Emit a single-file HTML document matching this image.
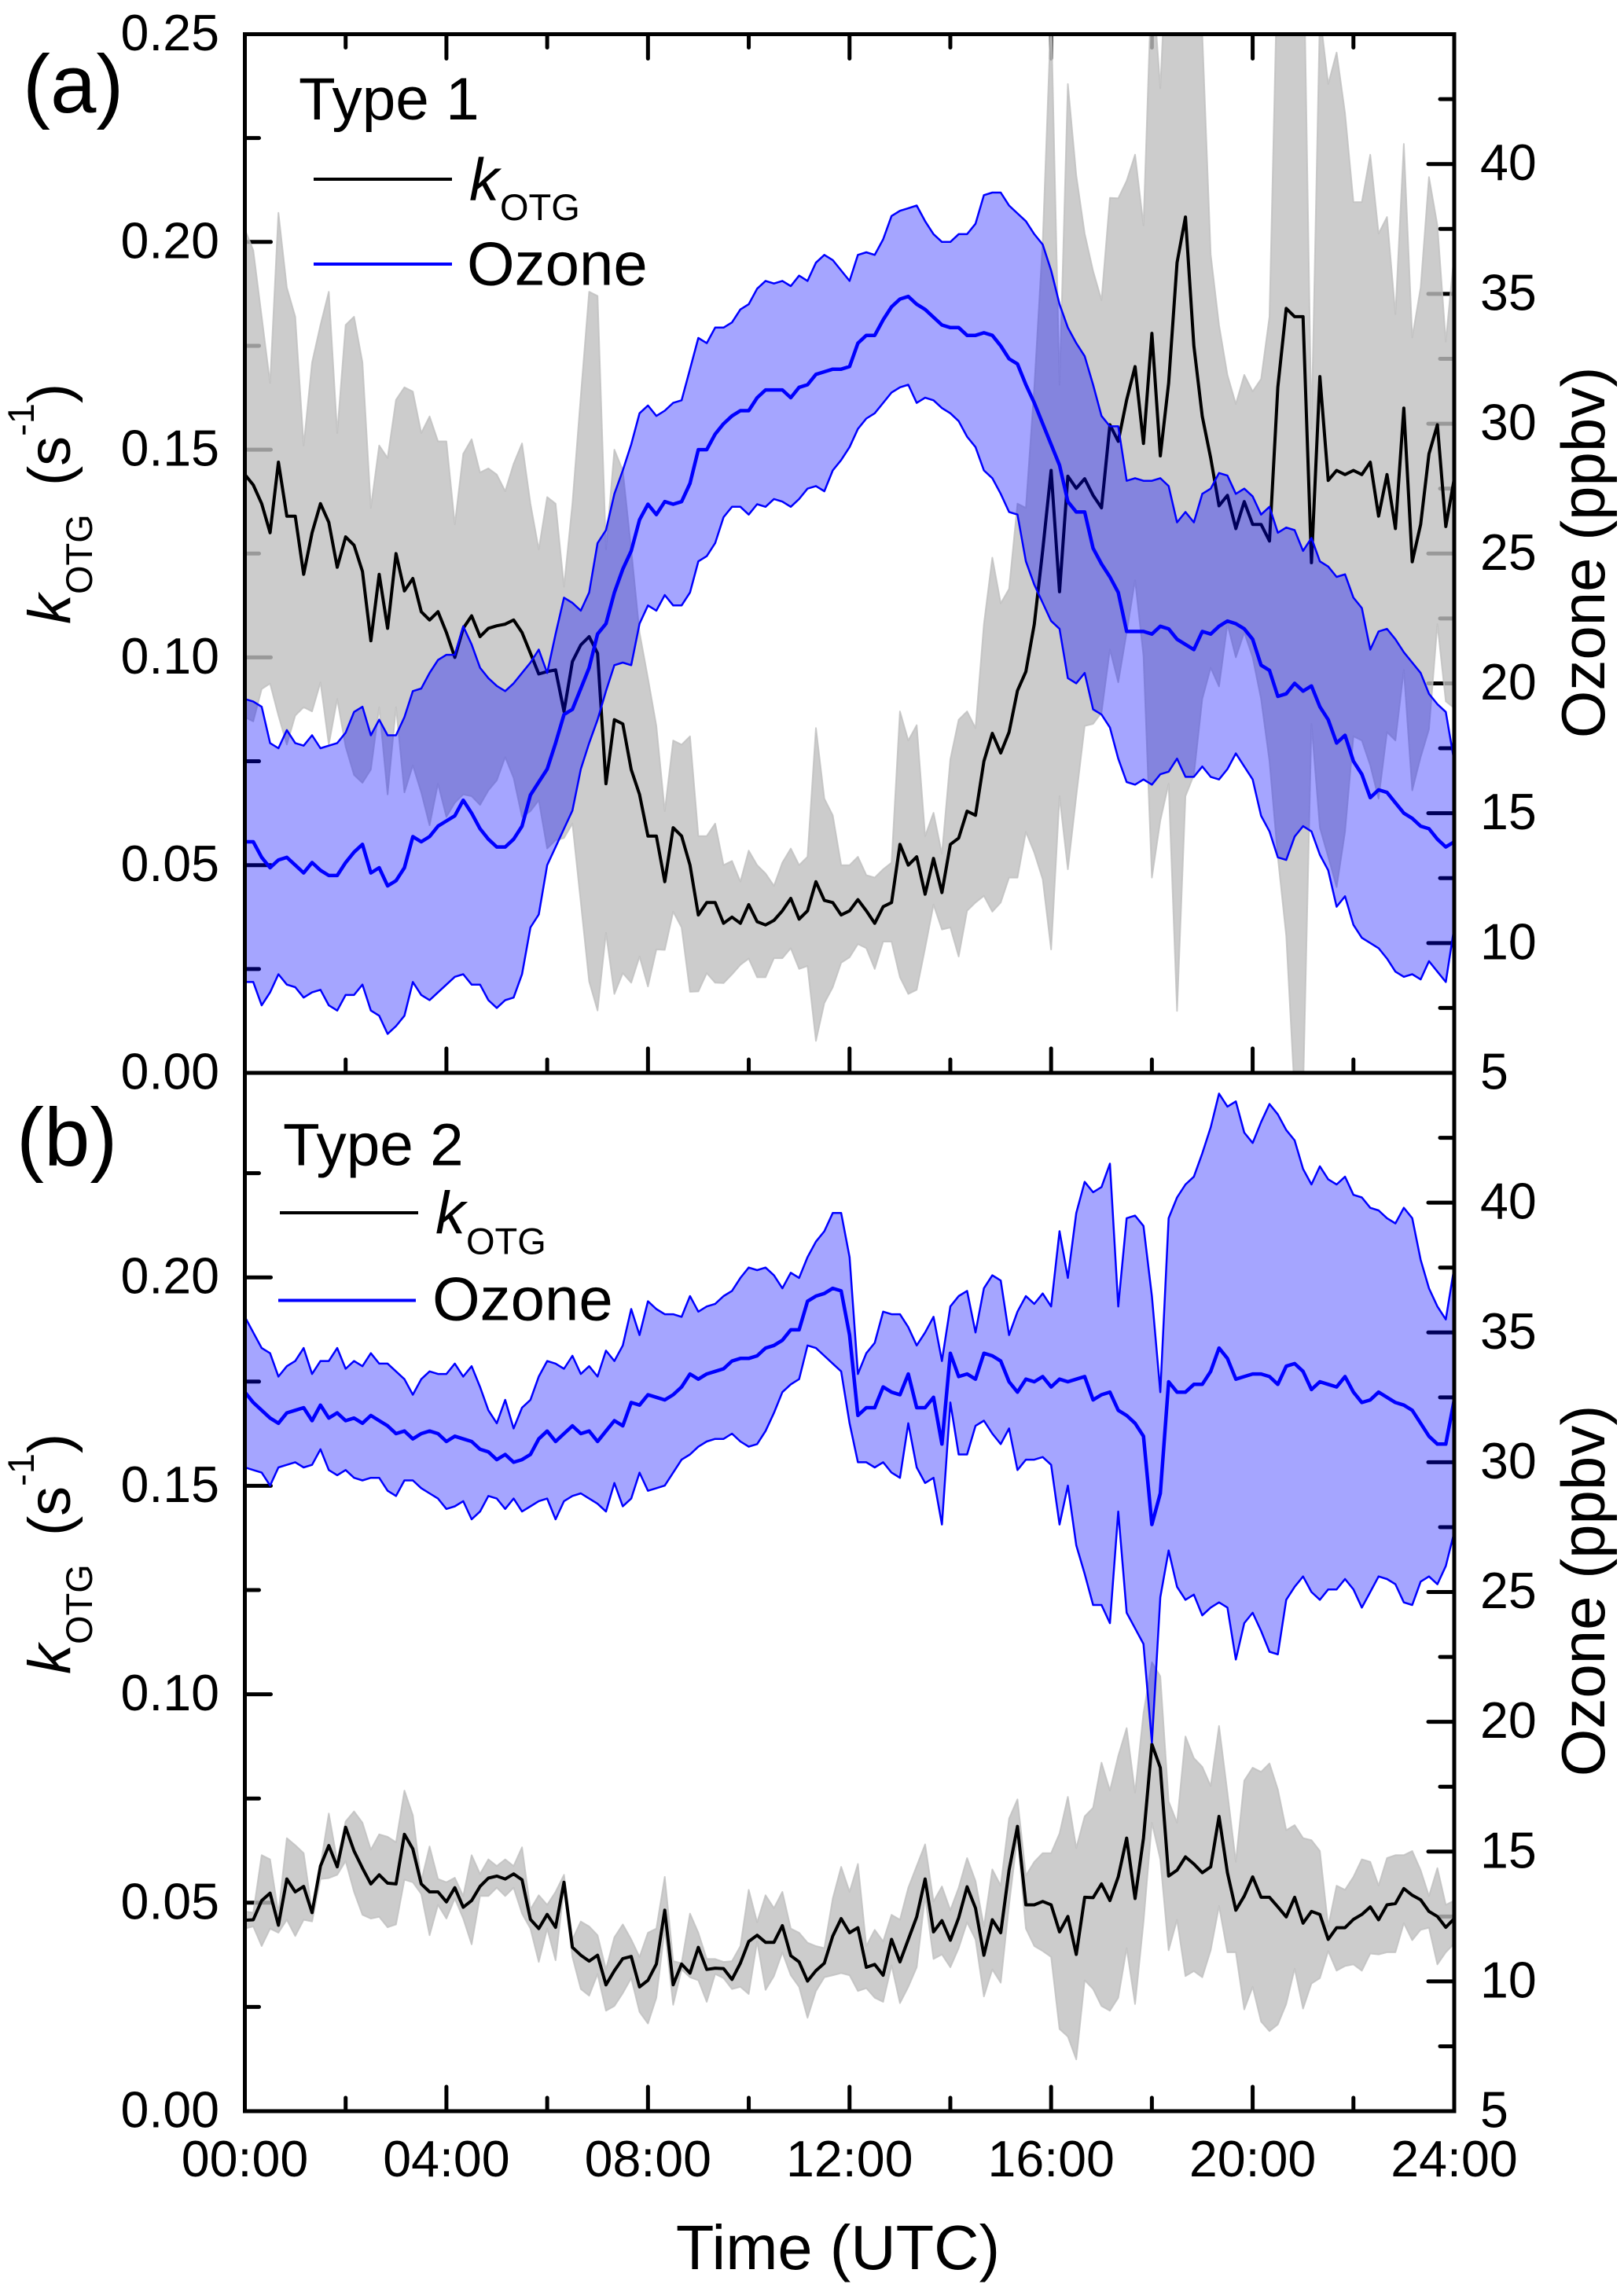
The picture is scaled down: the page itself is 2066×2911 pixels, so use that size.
<!DOCTYPE html>
<html lang="en">
<head>
<meta charset="utf-8">
<title>kOTG and ozone diurnal profiles</title>
<style>
html,body{margin:0;padding:0;background:#fff;}
svg{display:block;font-family:"Liberation Sans",Arial,sans-serif;fill:#000;}
</style>
</head>
<body>
<svg id="chart" xmlns="http://www.w3.org/2000/svg" width="2066" height="2911" viewBox="0 0 2066 2911">
  <defs>
    <clipPath id="clip-a"><rect x="311.5" y="43.5" width="1538.5" height="1321.5"/></clipPath>
    <clipPath id="clip-b"><rect x="311.5" y="1365" width="1538.5" height="1321"/></clipPath>
  </defs>
  <g id="panel-a"></g>
  <g id="panel-b"></g>

  <text x="29" y="143" font-size="105">(a)</text>
  <text x="21" y="1483" font-size="105">(b)</text>

  <g>
    <text x="380" y="152" font-size="76.5">Type 1</text>
    <line x1="399" x2="575" y1="228" y2="228" stroke="#000" stroke-width="4"/>
    <text x="597" y="254.5" font-size="76"><tspan font-style="italic">k</tspan><tspan font-size="47" dx="1" dy="25.5">OTG</tspan></text>
    <line x1="399" x2="575" y1="336" y2="336" stroke="#0000ff" stroke-width="4"/>
    <text x="594" y="362.5" font-size="78">Ozone</text>
  </g>
  <g>
    <text x="360" y="1482.5" font-size="76.5">Type 2</text>
    <line x1="356" x2="532" y1="1543" y2="1543" stroke="#000" stroke-width="4"/>
    <text x="554" y="1569" font-size="76"><tspan font-style="italic">k</tspan><tspan font-size="47" dx="1" dy="26.5">OTG</tspan></text>
    <line x1="354" x2="529" y1="1654.5" y2="1654.5" stroke="#0000ff" stroke-width="4"/>
    <text x="550" y="1679.5" font-size="78">Ozone</text>
  </g>

  <text transform="translate(89,794) rotate(-90)" font-size="76"><tspan font-style="italic">k</tspan><tspan font-size="47" dy="28">OTG</tspan><tspan dy="-28" dx="36">(s</tspan><tspan font-size="47" dy="-46">-1</tspan><tspan dy="46">)</tspan></text>
  <text transform="translate(89,2130) rotate(-90)" font-size="76"><tspan font-style="italic">k</tspan><tspan font-size="47" dy="28">OTG</tspan><tspan dy="-28" dx="36">(s</tspan><tspan font-size="47" dy="-46">-1</tspan><tspan dy="46">)</tspan></text>
  <text transform="translate(2041,703) rotate(-90)" font-size="78" text-anchor="middle">Ozone (ppbv)</text>
  <text transform="translate(2041,2024) rotate(-90)" font-size="78" text-anchor="middle">Ozone (ppbv)</text>
  <text x="1066" y="2887" font-size="79.5" text-anchor="middle">Time (UTC)</text>
</svg>
<script>
// Tick values and labels
const hourTicks = [0,2,4,6,8,10,12,14,16,18,20,22,24];
const hourLabels = {0:"00:00",4:"04:00",8:"08:00",12:"12:00",16:"16:00",20:"20:00",24:"24:00"};
const kTicksA = [0,25,50,75,100,125,150,175,200,225,250];
const kTicksB = [0,25,50,75,100,125,150,175,200,225];
const kLabelsA = {0:"0.00",50:"0.05",100:"0.10",150:"0.15",200:"0.20",250:"0.25"};
const kLabelsB = {0:"0.00",50:"0.05",100:"0.10",150:"0.15",200:"0.20"};
const ozoneTicks = [5,7.5,10,12.5,15,17.5,20,22.5,25,27.5,30,32.5,35,37.5,40,42.5,45];
const ozoneLabels = {5:"5",10:"10",15:"15",20:"20",25:"25",30:"30",35:"35",40:"40"};

// Panel (a): kOTG in units of 10^-3 s^-1, ozone in ppbv, 10-minute steps
const kMidA = [144,141.5,137,130,147,134,134,120,130,137,
132.5,121.7,129,127,120.7,104,120,107,125,116,
119,111,109,111,106,100,107,110,105,107,
107.6,108,109,106,101,96,96.6,97,87,99,
103,105,101,69.6,85,84,73,67,57,57,
46,59,57,50,38,41,41,36,37.5,36,
40.5,36.4,35.6,36.7,39,42,37,39,46,41.5,
41,38,39,41.7,39,36,40,41,55,50,
52,43,51.6,43.4,55,56.5,63,62,75,81.7,
77,82,92,96.6,108,125.8,145,115.8,143.6,140.7,
143,139,136,156,152,162,170,151.5,178,148.5,
166,195,206,175,158,148,136.5,139,131,137.5,
132,132,128,165,184,182,182,122.8,167.6,142.6,
145,144,145,144,147,134,144,131,160,123,
132,149,156,131.5,143];
const kUpperA = [203,198,182,166,207,189,182,151,171,180,
188,154,180,182,171,136,151,148,162,165,
164,154,158,152,152,132,149,152.5,144.5,145.5,
144,140,146.6,151.5,137,126,138.6,137,117,137,
163,188,187,126,150,145,126,106,95,83.5,
63,80,79,81,57,57,60,50,51,46,
53.5,50,48,45,50.6,54,50,52,83,66,
62,50,50,52,47.6,47,49,50.6,87,80,
83.7,57,62.6,52.7,75.5,85,87,83,108,124,
113,116.5,137,136,165,200,255,165.6,238,216,
202,193,186,210.6,210.5,214.7,221,204,265,237,
280,290,290,285,250,197,180,168,161,168,
164,167,182,270,280,280,280,155,255,238,
245.6,231,209.6,209.6,221,202,206,182.6,223.6,177,
189,215.6,204,176,197];
const kLowerA = [85.6,84.6,92.4,93.7,86,79,86,88,87,94,
79,90,78.5,71.7,69.8,73,88,67,88,67.5,
74,67.5,59.6,69.6,61.6,65,67,66.6,64.5,68,
70.4,76,71,61.6,63,65.6,54,56,56.5,60,
41,22,15,33.7,19,24,21.7,28,20.8,29.7,
29.6,38.8,35,19.5,19.6,24,21.7,21.6,23.7,26,
27.5,23,23,27.6,27.6,30,25,25.7,7.7,16.8,
20.6,26.5,27.8,31,30,25,31.6,31.6,23,19,
20,30,40.5,34.5,35,28,39,41,42.6,38.8,
41,47,47,58,53,46.6,29.7,66.6,49,66.6,
83.5,84,86.7,101.9,94,106,118.6,100.4,47,60.7,
69.6,14.9,66.6,71.7,90,97.5,93,108,100,106,
100,90,75,52,33,-5,-5,84,59,52,
44.7,58,81,80,74,66,82,80,97,68,
76,82.7,108,89.4,87.8];
const ozoneUpperA = [19.4,19.3,19.1,17.7,17.5,18.2,17.7,17.6,18,17.5,
17.6,17.7,18.1,18.9,19.1,18,18.6,18,18,18.7,
19.7,19.8,20.4,20.9,21.1,21.1,22.2,21.5,20.6,20.2,
19.9,19.7,20,20.4,20.8,21.3,20.4,21.9,23.3,23.1,
22.8,23.5,25.4,25.9,27.3,28.2,29.2,30.4,30.7,30.3,
30.5,30.8,30.9,32.1,33.3,33.1,33.7,33.7,33.9,34.4,
34.6,35.2,35.5,35.4,35.5,35.3,35.7,35.5,36.2,36.5,
36.3,35.9,35.5,36.5,36.6,36.5,37.1,38,38.2,38.3,
38.4,37.8,37.3,37,37,37.3,37.3,37.7,38.8,38.9,
38.9,38.4,38.1,37.8,37.3,36.9,35.9,34.6,33.7,33.1,
32.6,31.5,30.3,29.9,29.9,27.8,27.9,27.8,27.8,27.9,
27.6,26.2,26.6,26.2,27.3,27.5,28.1,28,27.3,27.5,
27.2,26.5,26.8,25.8,26,25.9,25.1,25.6,24.7,24.5,
24.1,24.2,23.3,22.9,21.3,22,22.1,21.7,21.2,20.8,
20.4,19.6,19.2,18.9,17];
const ozoneMidA = [13.9,13.9,13.3,12.9,13.2,13.3,13,12.7,13.1,12.8,
12.6,12.6,13.1,13.5,13.8,12.7,12.9,12.2,12.4,12.9,
14.1,13.9,14.1,14.5,14.7,14.9,15.5,15,14.4,14,
13.7,13.7,14,14.5,15.7,16.2,16.7,17.7,18.8,19,
19.8,20.6,21.9,22.3,23.5,24.4,25.1,26.3,26.9,26.5,
27,26.9,27,27.7,29,29,29.6,30,30.3,30.5,
30.5,31,31.3,31.3,31.3,31,31.4,31.5,31.9,32,
32.1,32.1,32.2,33.1,33.4,33.4,34,34.5,34.8,34.9,
34.6,34.4,34.1,33.8,33.7,33.7,33.4,33.4,33.5,33.4,
33,32.5,32.3,31.5,30.8,30,29.2,28.4,27,26.6,
26.6,25.2,24.6,24.1,23.5,22,22,22,21.9,22.2,
22.1,21.7,21.5,21.3,22,21.9,22.2,22.4,22.3,22.1,
21.7,20.7,20.5,19.5,19.6,20,19.7,19.9,19.1,18.6,
17.7,18,17,16.5,15.6,15.9,15.8,15.4,15,14.8,
14.5,14.4,14,13.7,13.9];
const ozoneLowerA = [8.5,8.5,7.6,8.1,8.8,8.4,8.3,7.9,8.1,8.2,
7.6,7.4,8,8,8.4,7.4,7.2,6.5,6.8,7.2,
8.5,8,7.8,8.1,8.4,8.7,8.8,8.4,8.4,7.8,
7.5,7.8,7.9,8.8,10.6,11.1,13,13.7,14.4,15.1,
16.7,17.7,18.6,19.7,20.7,20.8,20.7,22.3,23,22.8,
23.4,23,23,23.5,24.7,24.9,25.4,26.4,26.8,26.8,
26.5,26.9,26.8,27.1,27,26.8,27.1,27.5,27.6,27.4,
28.2,28.6,29.1,29.8,30.2,30.4,30.8,31.2,31.4,31.5,
30.8,31,30.9,30.6,30.4,30.1,29.5,29.1,28.2,27.9,
27.3,26.6,26.5,24.7,23.8,23.1,22.4,22.1,20.2,20,
20.4,19,18.8,18.3,17.1,16.2,16.1,16.3,16.1,16.5,
16.6,17.1,16.4,16.4,16.8,16.4,16.3,16.7,17.3,16.8,
16.3,14.9,14.3,13.3,13.2,14.1,14.5,14.3,13.4,12.8,
11.4,11.8,10.7,10.2,10,9.8,9.4,8.9,8.7,8.8,
8.6,9.3,8.9,8.5,10.6];

// Panel (b)
const kMidB = [45.8,45.9,50.5,52.3,44.6,55.7,52.6,53.9,47.6,58.8,
63.7,58.6,68.1,62.4,58.3,54.5,56.7,54.7,54.5,66.4,
62.9,54.5,52.6,52.6,50.2,53.6,48.9,50.5,53.9,55.9,
56.4,55.7,56.9,55.5,46,43.8,47.2,44.1,54.9,39.3,
37.4,36,37.4,30.3,33.7,36.6,37.1,29.8,31.4,35.3,
48.2,30.3,35.3,33.1,39.3,34,34.3,34.2,31.6,35.5,
40.7,42.2,40.5,40.5,44.5,37.3,35.8,31.2,33.7,35.5,
42,46.2,42.8,44,34.5,35.2,32.6,41.2,35.8,41.2,
46.6,55.7,43,45.7,41,46.4,53.8,48.7,37.4,45.9,
42.8,57.8,68.3,49.5,49.5,50.3,49.5,43,46.7,37.6,
51.3,51.2,54.5,50.5,56.2,65.5,51,65.5,88,82.4,
56.4,57.8,61,59.3,57.2,58.6,70.7,57.2,48.2,51.6,
56.2,51.3,51.3,49,46.6,51.3,45.1,47.9,47.2,41.2,
44,44,46,47.2,49,45.9,49.5,49.8,53.4,51.8,
50.7,47.9,46.7,44.1,46.2];
const kUpperB = [47.9,47.6,61.4,60.4,47.4,65.5,63.8,61.9,47.9,58.8,
71.4,60,69.5,71.9,69.2,62.7,66.4,65.8,64.5,76.9,
71,55.2,63.5,55.7,54.9,56,51.6,61.4,56.9,60.4,
58.8,60.4,58.8,63.3,48.4,51.8,49.5,52.6,56.7,41.2,
45.5,44.3,42.2,34,41.7,44.8,41.2,37,42.8,43.8,
56.2,36,35.5,47.4,42.8,36.5,36.5,35.8,36,39.6,
53.1,45.3,51.8,48.7,52.6,43.8,42.8,40.4,39.6,39.1,
51,58.6,52.6,59.3,39.6,43.5,40.7,47.1,45.9,53.6,
58.8,64,50.3,53.9,48.2,53.6,60.7,55.2,44.3,58,
54.1,70.2,74.8,56.5,59.8,61.9,61.9,66.6,75.4,63.1,
70.7,72.8,83.6,76.9,85.2,91.9,76.4,95.5,107.7,104.3,
74.3,69.2,89.9,84.7,82.6,78,92.4,76.4,59.8,79.3,
82.4,81.4,83.4,77.2,67.4,68.6,65.5,65,62.4,44.3,
54.1,53.1,56.2,60.4,59.8,54.1,60.7,61.4,61.4,62.4,
57.8,51.6,58.3,49.5,50.5];
const kLowerB = [43.8,44.3,39.6,43.8,42.8,45.9,42,45.9,45.5,55.7,
55.9,56.7,60,52.6,47.1,46.2,46.6,44.1,44.8,55.5,
54.9,52.1,42.2,49.5,46.2,51,46.2,40,51.6,51.6,
53.6,51.6,53.6,47.4,43.8,35.8,43.8,36.2,53.6,37,
29.3,27.7,32.9,24.1,25.2,28.3,31.9,23.8,21,27.2,
43.8,25.5,34,32.1,31.4,26.2,32.9,31.9,29.3,29.8,
28.1,40.7,29.1,32.4,38.1,32.6,29.8,22.4,28.8,32.1,
32.6,33.1,32.6,28.8,29.5,27.2,26.2,35,25.9,29.8,
34.5,51.6,36.5,37.6,34.5,39.1,45.3,41.2,27.5,34,
30.8,49.5,66,43.8,39.6,38.4,37,19.7,17.9,12.4,
31.4,29.3,25.2,24.1,27.2,39.1,25.7,45.3,69.2,60.4,
38.6,45.9,32.4,33.6,32.1,38.6,49.2,38.1,38.1,24.4,
29.8,21.5,19.2,20.8,25.7,34.2,24.6,30.6,31.9,38.4,
33.7,34.8,35.2,33.7,37.8,37.6,38.1,38.1,45.1,41,
43.5,44,35.2,38.1,40.2];
const ozoneUpperB = [35.6,35,34.4,34.2,33.3,33.7,33.9,34.4,33.4,33.9,
33.9,34.4,33.6,33.9,33.7,34.2,33.8,33.8,33.5,33.2,
32.6,33.2,33.5,33.4,33.4,33.8,33.3,33.7,32.9,32,
31.5,32.4,31.3,32.1,32.4,33.3,33.9,33.8,33.6,34.1,
33.4,33.7,33.3,34.3,33.9,34.5,35.9,34.9,36.2,35.9,
35.7,35.7,35.6,36.4,35.8,36,36.1,36.4,36.6,37.1,
37.5,37.4,37.5,37.2,36.7,37.3,37.1,37.9,38.5,38.9,
39.6,39.6,37.9,33.4,34.2,34.6,35.8,35.7,35.7,35.2,
34.5,35,35.6,33.9,36,36.4,36.6,35,36.7,37.2,
37,34.9,35.8,36.4,36.1,36.5,36,38.9,37.1,39.6,
40.8,40.4,40.6,41.5,36,39.4,39.5,39.1,36.4,32.7,
39.4,40.2,40.7,41,41.9,42.9,44.2,43.7,43.9,42.7,
42.3,43.1,43.8,43.4,42.8,42.4,41.3,40.7,41.4,40.9,
40.7,41,40.3,40.2,39.8,39.7,39.4,39.2,39.8,39.4,
37.8,36.7,36,35.5,37.5];
const ozoneMidB = [32.7,32.3,32,31.7,31.5,31.9,32,32.1,31.6,32.2,
31.7,31.9,31.6,31.7,31.5,31.8,31.6,31.4,31.1,31.2,
30.9,31.1,31.2,31.1,30.8,31,30.9,30.8,30.5,30.4,
30.1,30.3,30,30.1,30.3,30.9,31.2,30.8,31.1,31.4,
31.1,31.2,30.8,31.2,31.6,31.4,32.3,32.2,32.6,32.5,
32.4,32.6,32.9,33.4,33.2,33.4,33.5,33.6,33.9,34,
34,34.1,34.4,34.5,34.7,35.1,35.1,36.2,36.4,36.5,
36.7,36.6,34.9,31.8,32.1,32.1,32.9,32.7,32.6,33.4,
32.1,32.1,32.5,30.7,34.2,33.3,33.4,33.2,34.2,34.1,
33.9,33.1,32.7,33.2,33.1,33.3,32.9,33.2,33.1,33.2,
33.3,32.4,32.6,32.7,32,31.8,31.5,31,27.6,28.8,
33.1,32.7,32.7,33,33,33.5,34.4,34,33.2,33.3,
33.4,33.4,33.3,33,33.7,33.8,33.5,32.8,33.1,33,
32.9,33.3,32.7,32.3,32.4,32.7,32.5,32.3,32.2,32,
31.5,31,30.7,30.7,32.4];
const ozoneLowerB = [29.8,29.7,29.6,29.1,29.8,29.9,30,29.8,29.9,30.5,
29.7,29.5,29.7,29.4,29.3,29.4,29.4,28.9,28.7,29.3,
29.3,29,28.8,28.6,28.2,28.3,28.5,27.8,28.1,28.7,
28.6,28.2,28.6,28.1,28.3,28.5,28.6,27.8,28.5,28.7,
28.8,28.6,28.4,28.1,29.2,28.3,28.6,29.6,28.9,29,
29.1,29.6,30.1,30.3,30.6,30.8,30.9,30.9,31.1,30.8,
30.6,30.7,31.2,31.9,32.7,33,33.2,34.5,34.4,34.1,
33.8,33.5,31.5,30,30,29.8,30,29.6,29.4,31.5,
29.8,29.2,29.4,27.6,32.3,30.3,30.3,31.4,31.6,31.1,
30.7,31.3,29.7,30.1,30.1,30.2,29.9,27.6,29.1,26.8,
25.7,24.5,24.5,23.8,28.1,24.2,23.6,23,19.2,24.8,
26.6,25.2,24.7,24.9,24.1,24.4,24.6,24.4,22.4,23.8,
24.2,23.5,22.7,22.6,24.7,25.2,25.6,25,24.7,25.1,
25.1,25.5,25.1,24.4,25,25.6,25.5,25.3,24.6,24.5,
25.4,25.6,25.3,26,27.3];

const NS = "http://www.w3.org/2000/svg";
const LEFT = 311.5, RIGHT = 1850;

function xScale(h){ return LEFT + h / 24 * (RIGHT - LEFT); }
function kScale(v, top, bottom){ return bottom - v / 250 * (bottom - top); }
function ozoneScale(v, top, bottom){ return bottom - (v - 5) / 40 * (bottom - top); }

function make(parent, tag, attrs){
  const el = document.createElementNS(NS, tag);
  for (const key in attrs) el.setAttribute(key, attrs[key]);
  parent.appendChild(el);
  return el;
}
function seriesPoints(values, yFn){
  return values.map(function(v, i){
    return xScale(i / (values.length - 1) * 24).toFixed(1) + "," + yFn(v).toFixed(1);
  });
}

function drawPanel(cfg){
  const g = document.getElementById(cfg.id);
  const top = cfg.top, bottom = cfg.bottom;
  const ky = function(v){ return kScale(v, cfg.kTop, bottom); };
  const oy = function(v){ return ozoneScale(v, top, bottom); };

  // ticks sit beneath the translucent bands
  cfg.kTicks.forEach(function(t){
    const major = t % 50 === 0;
    const tick = make(g, "line", {x1: LEFT, x2: LEFT + (major ? 33 : 18), y1: ky(t), y2: ky(t), stroke: "#000", "stroke-width": 5, "stroke-linecap": "round"});
    
    
    if (cfg.kLabels[t] !== undefined){
      const label = make(g, "text", {x: 279, y: ky(t) + 20.5, "font-size": 64.5, "text-anchor": "end"});
      label.textContent = cfg.kLabels[t];
      
      
    }
  });
  ozoneTicks.forEach(function(t){
    const major = t % 5 === 0;
    const tick = make(g, "line", {x1: RIGHT, x2: RIGHT - (major ? 33 : 18), y1: oy(t), y2: oy(t), stroke: "#000", "stroke-width": 5, "stroke-linecap": "round"});
    
    
    if (ozoneLabels[t] !== undefined){
      const label = make(g, "text", {x: 1883, y: oy(t) + 20.5, "font-size": 64.5});
      label.textContent = ozoneLabels[t];
      
      
    }
  });
  hourTicks.forEach(function(h){
    const major = h % 4 === 0;
    const len = major ? 31 : 17;
    const tick = make(g, "line", {x1: xScale(h), x2: xScale(h), y1: bottom, y2: bottom - len, stroke: "#000", "stroke-width": 5, "stroke-linecap": "round"});
    
    
    if (cfg.topTicks){
      const topTick = make(g, "line", {x1: xScale(h), x2: xScale(h), y1: top, y2: top + len, stroke: "#000", "stroke-width": 5, "stroke-linecap": "round"});
      
      
    }
    if (cfg.xLabels && hourLabels[h] !== undefined){
      const label = make(g, "text", {x: xScale(h), y: bottom + 83, "font-size": 64.5, "text-anchor": "middle"});
      label.textContent = hourLabels[h];
      
      
    }
  });

  const plot = make(g, "g", {"clip-path": "url(#" + cfg.clip + ")"});
  
  

  // grey kOTG spread
  const kUp = seriesPoints(cfg.kUpper, ky);
  const kLo = seriesPoints(cfg.kLower, ky);
  const greyBand = make(plot, "polygon", {points: kUp.concat(kLo.slice().reverse()).join(" "), fill: "rgb(191,191,191)", "fill-opacity": 0.8, stroke: "rgb(191,191,191)", "stroke-opacity": 0.8, "stroke-width": 2, "stroke-linejoin": "round"});
  
  

  // black kOTG line
  const kLine = make(plot, "polyline", {points: seriesPoints(cfg.kMid, ky).join(" "), fill: "none", stroke: "#000", "stroke-width": 4, "stroke-linejoin": "round"});
  
  

  // blue ozone spread
  const oUp = seriesPoints(cfg.ozoneUpper, oy);
  const oLo = seriesPoints(cfg.ozoneLower, oy);
  const blueBand = make(plot, "polygon", {points: oUp.concat(oLo.slice().reverse()).join(" "), fill: "rgb(0,0,255)", "fill-opacity": 0.353, stroke: "none"});
  
  

  const blueUpper = make(plot, "polyline", {points: oUp.join(" "), fill: "none", stroke: "#0000ff", "stroke-width": 2.5, "stroke-linejoin": "round"});
  
  

  const blueLower = make(plot, "polyline", {points: oLo.join(" "), fill: "none", stroke: "#0000ff", "stroke-width": 2.5, "stroke-linejoin": "round"});
  
  

  const blueMid = make(plot, "polyline", {points: seriesPoints(cfg.ozoneMid, oy).join(" "), fill: "none", stroke: "#0000ff", "stroke-width": 4.5, "stroke-linejoin": "round"});
  
  

  // frame on top
  const frame = make(g, "rect", {x: LEFT, y: top, width: RIGHT - LEFT, height: bottom - top, fill: "none", stroke: "#000", "stroke-width": 5});
  
  
}

drawPanel({id: "panel-a", clip: "clip-a", top: 43.5, kTop: 43.5, bottom: 1365, topTicks: true, xLabels: false, kTicks: kTicksA, kLabels: kLabelsA,
  kMid: kMidA, kUpper: kUpperA, kLower: kLowerA, ozoneMid: ozoneMidA, ozoneUpper: ozoneUpperA, ozoneLower: ozoneLowerA});
drawPanel({id: "panel-b", clip: "clip-b", top: 1365, kTop: 1360, bottom: 2686, topTicks: false, xLabels: true, kTicks: kTicksB, kLabels: kLabelsB,
  kMid: kMidB, kUpper: kUpperB, kLower: kLowerB, ozoneMid: ozoneMidB, ozoneUpper: ozoneUpperB, ozoneLower: ozoneLowerB});
</script>
</body>
</html>
